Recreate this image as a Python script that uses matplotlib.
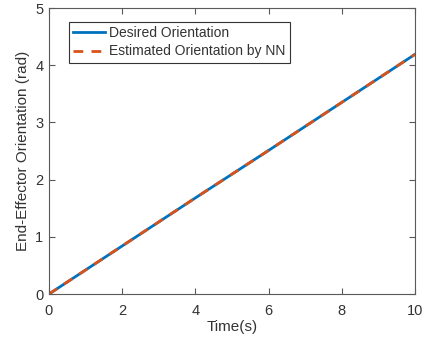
import matplotlib
matplotlib.use('Agg')
from matplotlib import pyplot as plt

# values
time_s = [0, 2, 4, 6, 8, 10]
desired = [0, 0.84, 1.68, 2.51, 3.35, 4.19]
estimated = [0, 0.84, 1.68, 2.51, 3.35, 4.19]

plt.rcParams['font.family'] = ['Liberation Sans', 'DejaVu Sans']

fig = plt.figure(figsize=(4.27, 3.45), dpi=100)
ax = fig.add_axes([49 / 427, 1 - 294 / 345, 366 / 427, 286 / 345])

ax.plot(time_s, desired, color='#0072BD', linewidth=2, label='Desired Orientation')
ax.plot(time_s, estimated, color='#D95319', linewidth=2, linestyle=(0, (3.5, 3)),
        label='Estimated Orientation by NN')

ax.set_xlim(0, 10)
ax.set_ylim(0, 5)
ax.set_xticks(range(0, 11, 2))
ax.set_yticks(range(0, 6))

# matlab-ish box and ticks
for s in ax.spines.values():
    s.set_color('#5a5a5a')
    s.set_linewidth(0.8)
ax.tick_params(direction='in', top=True, right=True, length=4, width=0.8,
               colors='#5a5a5a', labelcolor='#333333', labelsize=10.5)
ax.tick_params(axis='x', pad=7.5)
ax.tick_params(axis='y', pad=4)

ax.set_xlabel('Time(s)', fontsize=11, color='#333333', labelpad=1)
ax.set_ylabel('End-Effector Orientation (rad)', fontsize=11, color='#333333', labelpad=4)

leg = ax.legend(loc='upper left', bbox_to_anchor=(0.036, 0.975), fontsize=10,
                fancybox=False, framealpha=1, edgecolor='#333333',
                handlelength=2.3, handletextpad=0.3, borderpad=0.3, labelspacing=0.3)
leg.get_frame().set_linewidth(0.8)
for t in leg.get_texts():
    t.set_color('#333333')

fig.savefig('out.png', dpi=100)
